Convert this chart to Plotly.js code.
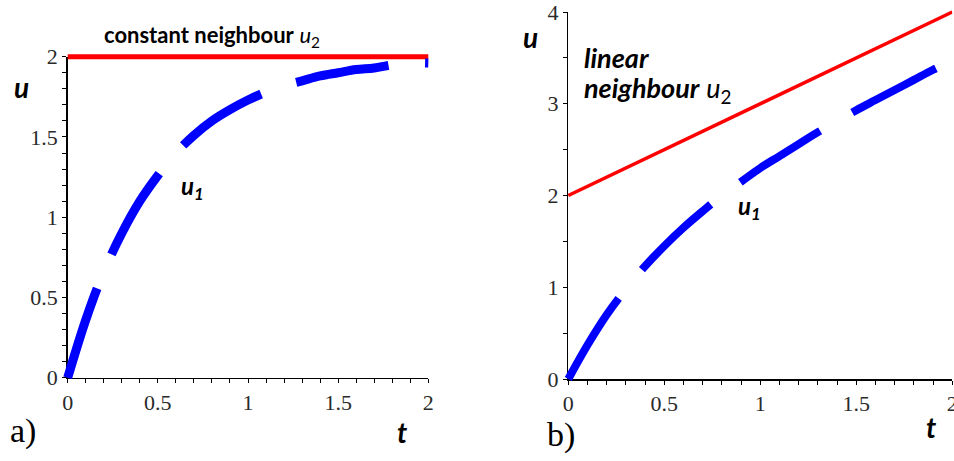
<!DOCTYPE html>
<html>
<head>
<meta charset="utf-8">
<script src="https://cdn.plot.ly/plotly-3.0.1.min.js"></script>
<style>
  html, body { margin: 0; padding: 0; background: #fff; }
  #chart { width: 954px; height: 461px; }
</style>
</head>
<body>
<div id="chart"></div>
<script>
// ---- data ----
const tA = [0, 0.1, 0.2, 0.3, 0.4, 0.5, 0.6, 0.7, 0.8, 0.9, 1.0, 1.1, 1.2, 1.3, 1.4, 1.5, 1.6, 1.7, 1.8, 1.9, 2.0];
const u1A = [0, 0.36, 0.66, 0.90, 1.10, 1.26, 1.40, 1.51, 1.60, 1.67, 1.73, 1.78, 1.82, 1.85, 1.88, 1.90, 1.92, 1.93, 1.95, 1.96, 1.96];
const tA2 = [0, 2];
const u2A = [2, 2];

const tB = [0, 0.1, 0.2, 0.3, 0.4, 0.5, 0.6, 0.7, 0.8, 0.9, 1.0, 1.1, 1.2, 1.3, 1.4, 1.5, 1.6, 1.7, 1.8, 1.9, 2.0];
const u1B = [0, 0.37, 0.70, 0.98, 1.23, 1.45, 1.65, 1.83, 2.00, 2.15, 2.30, 2.43, 2.56, 2.69, 2.81, 2.93, 3.04, 3.15, 3.26, 3.37, 3.47];
const tB2 = [0, 2];
const u2B = [2, 4];

// major tick labels
const xTickVals = [0, 0.5, 1, 1.5, 2];
const xTickText = ['0', '0.5', '1', '1.5', '2'];
const yTickValsA = [0, 0.5, 1, 1.5, 2];
const yTickTextA = ['0', '0.5', '1', '1.5', '2'];
const yTickValsB = [0, 1, 2, 3, 4];
const yTickTextB = ['0', '1', '2', '3', '4'];

// ---- layout geometry (pixels) ----
const W = 954, H = 461;
const fx = px => px / W;
const fy = py => 1 - py / H;

const domA = { x: [fx(67.7), fx(428.3)], y: [fy(377.7), fy(56.7)], xr: [0, 2], yr: [0, 2] };
const domB = { x: [fx(568.3), fx(952.3)], y: [fy(379), fy(12)], xr: [0, 2], yr: [0, 4] };

// full tick arrays: major ticks carry labels, minor ticks carry empty labels
function fullTicks(r, step, majorVals, majorText) {
  const vals = [], text = [];
  const n = Math.round((r[1] - r[0]) / step);
  for (let i = 0; i <= n; i++) {
    const v = +(r[0] + i * step).toFixed(6);
    vals.push(v);
    const k = majorVals.findIndex(m => Math.abs(m - v) < 1e-6);
    text.push(k >= 0 ? majorText[k] : '');
  }
  return { vals, text };
}

// extended (hidden) data axes that share the exact scale of the visible axes
function extend(dom, r, padLo, padHi) {
  const per = (dom[1] - dom[0]) / (r[1] - r[0]);
  return { domain: [dom[0] - padLo * per, dom[1] + padHi * per], range: [r[0] - padLo, r[1] + padHi] };
}
const exAx = extend(domA.x, domA.xr, 0.1, 0.1);
const exAy = extend(domA.y, domA.yr, 0.1, 0.1);
const exBx = extend(domB.x, domB.xr, 0.1, 0.0);
const exBy = extend(domB.y, domB.yr, 0.1, 0.08);

const serif = 'Liberation Serif';
const sans = 'Lato';
const tickFont = { family: serif, size: 22, color: '#2a2a2a' };

function dispAxis(domain, range, anchor, ticks) {
  return {
    domain: domain, range: range, anchor: anchor,
    showline: true, linecolor: '#000', linewidth: 1.5,
    ticks: 'outside', ticklen: 4, tickwidth: 1, tickcolor: '#000',
    tickmode: 'array', tickvals: ticks.vals, ticktext: ticks.text,
    ticklabeloverflow: 'allow',
    showgrid: false, zeroline: false, tickfont: tickFont, fixedrange: true
  };
}
function hidden(ex, anchor) {
  return { domain: ex.domain, range: ex.range, anchor: anchor, visible: false, fixedrange: true };
}

const traces = [
  { x: [0], y: [0], xaxis: 'x', yaxis: 'y', type: 'scatter', mode: 'markers', marker: { opacity: 0 }, showlegend: false, hoverinfo: 'skip' },
  { x: [0], y: [0], xaxis: 'x3', yaxis: 'y3', type: 'scatter', mode: 'markers', marker: { opacity: 0 }, showlegend: false, hoverinfo: 'skip' },
  { x: tA2, y: u2A, xaxis: 'x2', yaxis: 'y2', type: 'scatter', mode: 'lines',
    line: { color: '#ff0000', width: 5 }, showlegend: false },
  { x: tA, y: u1A, xaxis: 'x2', yaxis: 'y2', type: 'scatter', mode: 'lines',
    line: { color: '#0000ff', width: 9, dash: '94px,37px', shape: 'spline' }, showlegend: false },
  { x: tB2, y: u2B, xaxis: 'x4', yaxis: 'y4', type: 'scatter', mode: 'lines',
    line: { color: '#ff0000', width: 3.5 }, showlegend: false },
  { x: tB, y: u1B, xaxis: 'x4', yaxis: 'y4', type: 'scatter', mode: 'lines',
    line: { color: '#0000ff', width: 8, dash: '95px,37px', shape: 'spline' }, showlegend: false }
];

function ann(text, px, py, size, family, xanchor) {
  return {
    text: text, xref: 'paper', yref: 'paper', x: fx(px), y: fy(py),
    xanchor: xanchor || 'left', yanchor: 'middle', align: 'left', showarrow: false,
    font: { family: family || sans, size: size, color: '#000' }
  };
}

const annotations = [
  ann('<b>constant neighbour</b> <i>u</i><sub>2</sub>', 102, 36, 22),
  ann('<b><i>u</i></b><sub><b><i>1</i></b></sub>', 179, 187, 24),
  ann('<b><i>u</i></b>', 21, 87, 28, sans, 'center'),
  ann('<b><i>t</i></b>', 402, 432, 28, sans, 'center'),
  ann('a)', 8, 431, 34, serif),
  ann('<b><i>u</i></b>', 530, 37, 28, sans, 'center'),
  ann('<b><i>t</i></b>', 931, 427, 28, sans, 'center'),
  ann('b)', 545, 435, 34, serif),
  ann('<b><i>linear</i></b>', 582, 57, 27),
  ann('<b><i>neighbour</i></b> <i>u</i><sub>2</sub>', 582, 89, 27),
  ann('<b><i>u</i></b><sub><b><i>1</i></b></sub>', 736, 207, 24)
];

const layout = {
  width: W, height: H,
  margin: { l: 0, r: 0, t: 0, b: 0, pad: 0 },
  paper_bgcolor: '#ffffff', plot_bgcolor: 'rgba(0,0,0,0)',
  showlegend: false,
  font: { family: serif },
  xaxis: dispAxis(domA.x, domA.xr, 'y', fullTicks(domA.xr, 0.1, xTickVals, xTickText)),
  yaxis: dispAxis(domA.y, domA.yr, 'x', fullTicks(domA.yr, 0.1, yTickValsA, yTickTextA)),
  xaxis2: hidden(exAx, 'y2'),
  yaxis2: hidden(exAy, 'x2'),
  xaxis3: dispAxis(domB.x, domB.xr, 'y3', fullTicks(domB.xr, 0.1, xTickVals, xTickText)),
  yaxis3: dispAxis(domB.y, domB.yr, 'x3', fullTicks(domB.yr, 0.5, yTickValsB, yTickTextB)),
  xaxis4: hidden(exBx, 'y4'),
  yaxis4: hidden(exBy, 'x4'),
  annotations: annotations
};

Plotly.newPlot('chart', traces, layout, { displayModeBar: false, staticPlot: true });
</script>
</body>
</html>
